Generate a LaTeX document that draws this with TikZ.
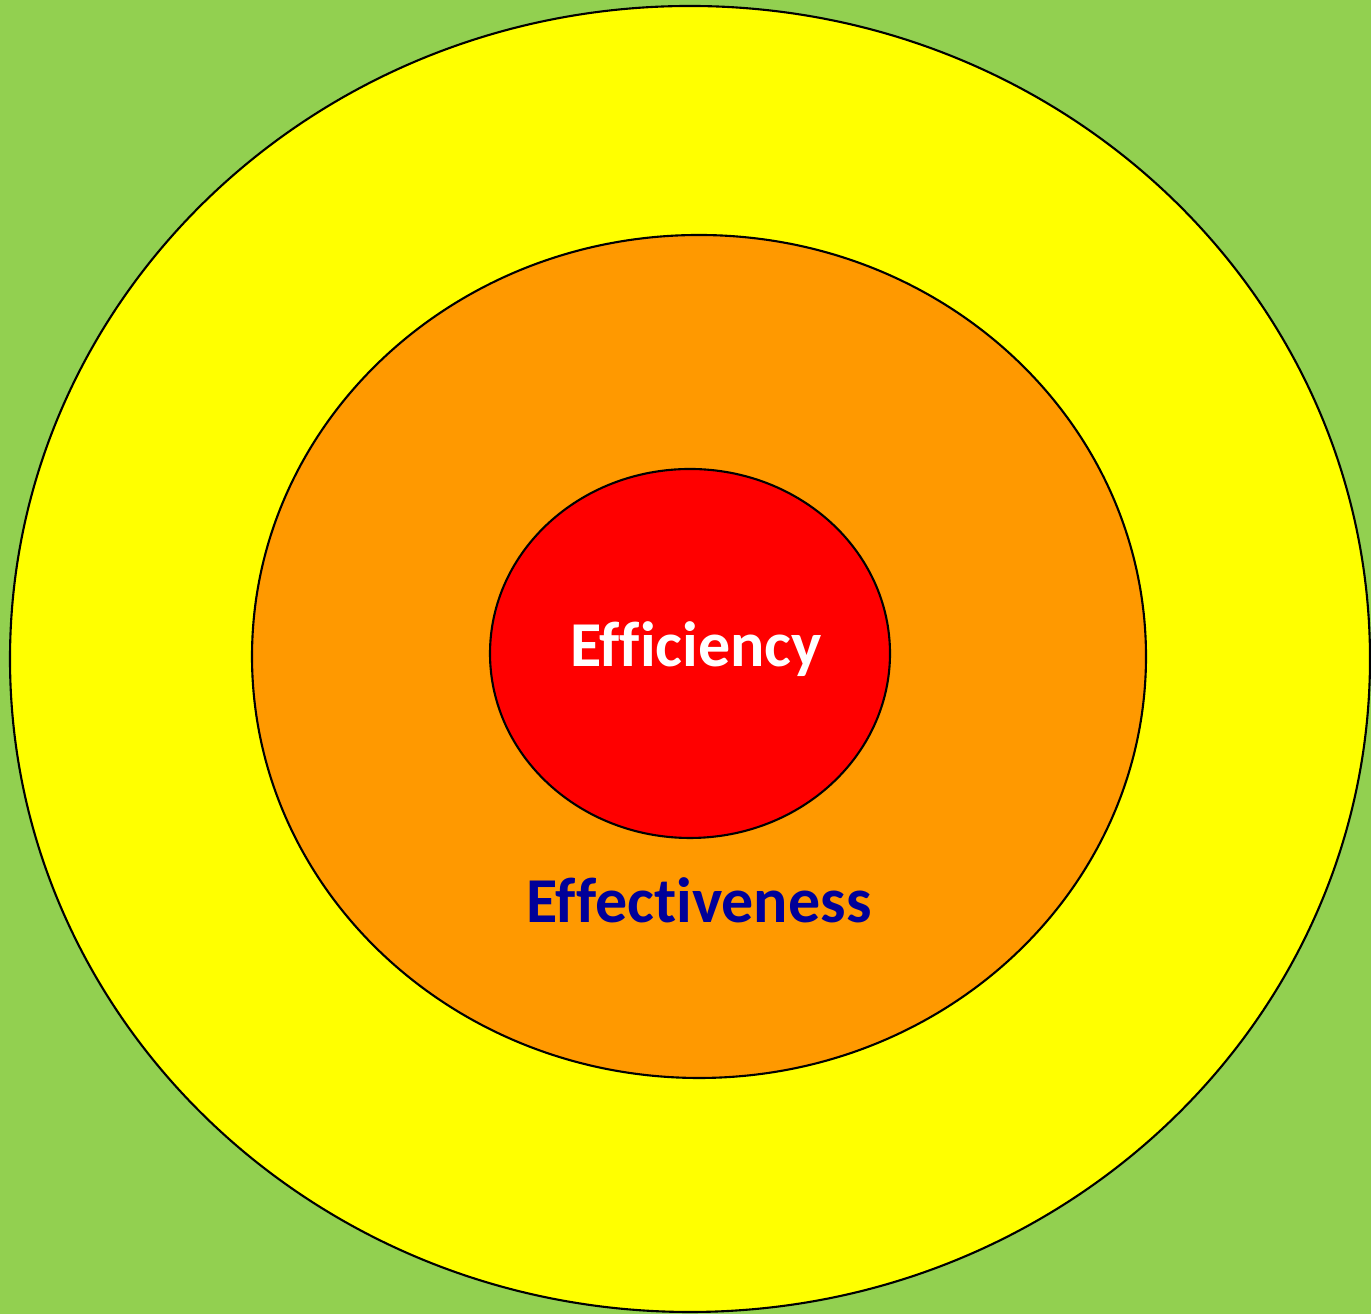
\documentclass[tikz,border=0pt]{standalone}
\usepackage{fontspec}
\setmainfont[Ligatures=NoCommon]{Carlito}
\usetikzlibrary{shapes.geometric}
\definecolor{bggreen}{HTML}{92D050}
\definecolor{ringyellow}{HTML}{FFFF00}
\definecolor{ringorange}{HTML}{FF9900}
\definecolor{ringred}{HTML}{FF0000}
\definecolor{labelblue}{HTML}{000099}
\tikzset{
  ring/.style={ellipse, draw=black, line width=0.6pt, inner sep=0pt},
  label/.style={font=\fontsize{18.2}{20}\selectfont\bfseries, anchor=base}
}
\begin{document}
\begin{tikzpicture}
		\fill[bggreen] (0,0) rectangle (13.71,13.14);
		\useasboundingbox (0,0) rectangle (13.71,13.14);
		
		\node[ring, fill=ringyellow, minimum width=13.6cm, minimum height=13.06cm] (outer) at (6.90,6.55) {};
		\node[ring, fill=ringorange, minimum width=8.94cm, minimum height=8.43cm] (middle) at (6.99,6.575) {};
		\node[ring, fill=ringred, minimum width=4.0cm, minimum height=3.69cm] (inner) at (6.90,6.605) {};
		
		\node[label, text=white] (efficiency) at (6.96,6.47) {Efficiency};
		\node[label, text=labelblue] (effectiveness) at (6.99,3.91) {Effectiveness};
	\end{tikzpicture}
\end{document}
